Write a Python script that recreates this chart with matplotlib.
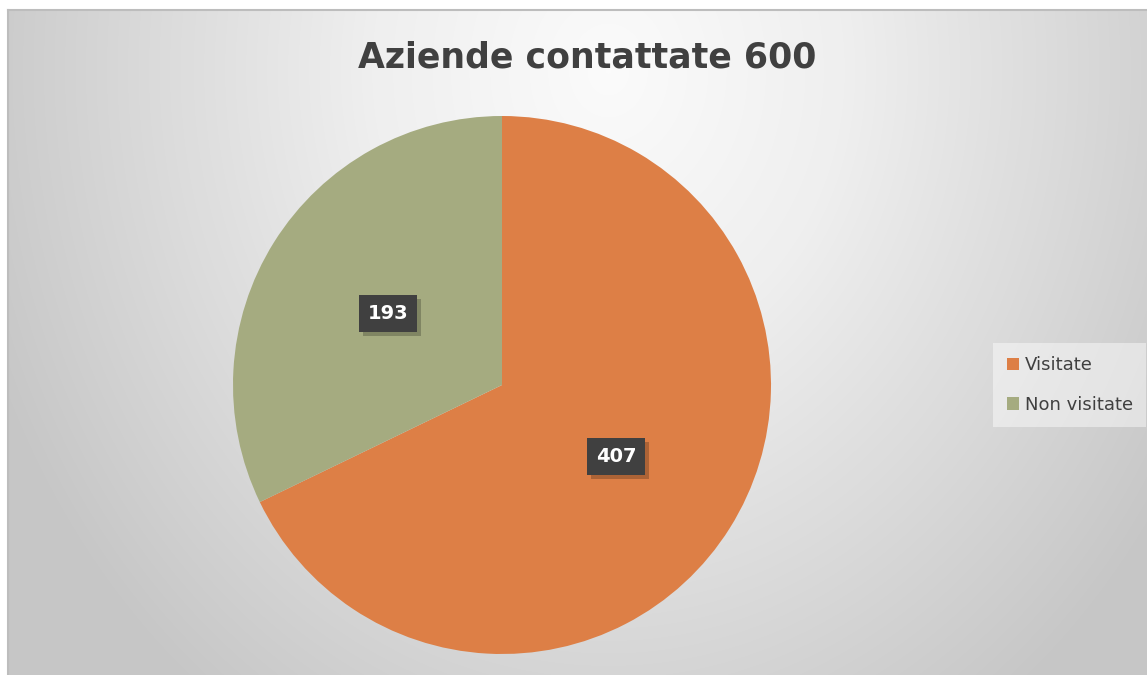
import numpy as np
import matplotlib
matplotlib.use("Agg")
import matplotlib.pyplot as plt
from matplotlib import patheffects as pe
from matplotlib.colors import LinearSegmentedColormap

# ---- data ----
title_text = "Aziende contattate 600"
categories = ["Visitate", "Non visitate"]
values = [407, 193]
colors = ["#DD7F46", "#A5AB80"]

W, H = 1147, 675
fig = plt.figure(figsize=(W / 100, H / 100), dpi=100)
fig.patch.set_facecolor("white")

# background gradient panel
bg = fig.add_axes([8 / W, 0, 1 - 8 / W, (H - 10) / H], zorder=-5)
bw, bh = W - 8, H - 10
yy, xx = np.mgrid[0:bh, 0:bw]
cx, cy = 600.0, 60.0
r = np.sqrt(((xx - cx) / 640.0) ** 2 + ((yy - cy) / 760.0) ** 2)
r = np.clip(r, 0, 1.05)
cmap = LinearSegmentedColormap.from_list("g", [(0, "#fbfbfb"), (0.35, "#efefef"), (1.0, "#c6c6c6")])
bg.imshow(r / 1.05, cmap=cmap, vmin=0, vmax=1, aspect="auto", interpolation="bilinear")
bg.set_axis_off()
# border lines
fig.add_artist(plt.Line2D([8 / W, 1], [(H - 10) / H] * 2, color="#bdbdbd", lw=1.5))
fig.add_artist(plt.Line2D([8 / W] * 2, [0, (H - 10) / H], color="#bdbdbd", lw=1.5))

# pie
cxp, cyp, R = 502, 385, 269
ax = fig.add_axes([(cxp - R) / W, (H - cyp - R) / H, 2 * R / W, 2 * R / H])
total = sum(values)
wedges, texts, autotexts = ax.pie(
    values, colors=colors, startangle=90, counterclock=False,
    autopct=lambda p: f"{int(round(p * total / 100))}", pctdistance=0.5,
    wedgeprops=dict(linewidth=0),
    textprops=dict(color="white", fontsize=14, fontweight="bold", family="DejaVu Sans"),
)
ax.set_xlim(-1, 1)
ax.set_ylim(-1, 1)
ax.set_aspect("equal")
ax.set_axis_off()
for t in autotexts:
    t.set_bbox(dict(boxstyle="square,pad=0.45", facecolor="#404040", edgecolor="none"))
    t.get_bbox_patch().set_path_effects([
        pe.SimplePatchShadow(offset=(3, -3), shadow_rgbFace="black", alpha=0.22),
        pe.Normal()])

# title
fig.text(587 / W, 1 - 57 / H, title_text, ha="center", va="center",
         fontsize=25, fontweight="bold", color="#404040", family="DejaVu Sans")

# legend
leg = fig.legend(wedges, categories, loc="center left",
                 bbox_to_anchor=(993 / W, 1 - 385 / H),
                 frameon=True, fontsize=13, handlelength=0.7, handleheight=0.7,
                 handletextpad=0.3, labelspacing=1.2, borderpad=0.75,
                 borderaxespad=0)
for t in leg.get_texts():
    t.set_color("#404040")
fr = leg.get_frame()
fr.set_facecolor("white")
fr.set_alpha(0.45)
fr.set_edgecolor("none")
fr.set_boxstyle("square", pad=0)

fig.savefig("out.png", dpi=100)
